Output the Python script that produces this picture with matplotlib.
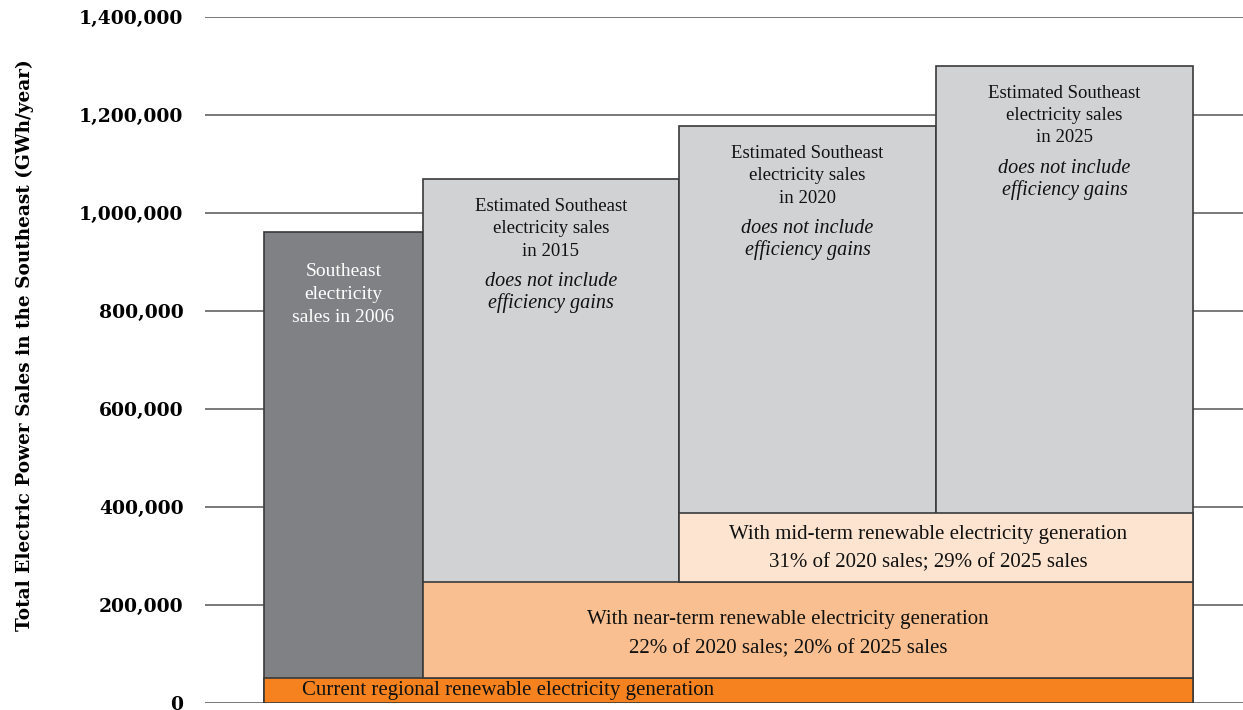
import matplotlib
matplotlib.use("Agg")
import matplotlib.pyplot as plt

# values (GWh/year)
years = ['2006', '2015', '2020', '2025']
sales = [961000, 1069000, 1177000, 1300000]
current_renew = 51000      # current regional renewable generation
near_term_top = 247000     # with near-term renewables
mid_term_top = 388000      # with mid-term renewables
yticks = [0, 200000, 400000, 600000, 800000, 1000000, 1200000, 1400000]

# layout (column edges in axes pixel units)
edges = [59, 218, 474, 731, 988]

plt.rcParams['font.family'] = ['Liberation Serif', 'DejaVu Serif']

fig = plt.figure(figsize=(12.43, 7.10), dpi=100)
ax = fig.add_axes([205/1243, 7/710, 1038/1243, 686/710])
ax.set_xlim(0, 1038)
ax.set_ylim(0, 1400000)

for y in yticks:
    ax.axhline(y, color='#6d6e71', lw=1.3, zorder=0)

dark = '#808184'
light = '#d1d2d4'
ec = '#3a3a3a'
for i in range(4):
    ax.bar(edges[i], sales[i], width=edges[i+1]-edges[i], align='edge',
           color=dark if i == 0 else light, edgecolor=ec, lw=1.2, zorder=2)

ax.bar(edges[0], current_renew, width=edges[4]-edges[0], align='edge',
       color='#f5821f', edgecolor=ec, lw=1.2, zorder=3)
ax.bar(edges[1], near_term_top-current_renew, bottom=current_renew,
       width=edges[4]-edges[1], align='edge',
       color='#f9bf91', edgecolor=ec, lw=1.2, zorder=3)
ax.bar(edges[2], mid_term_top-near_term_top, bottom=near_term_top,
       width=edges[4]-edges[2], align='edge',
       color='#fde4d0', edgecolor=ec, lw=1.2, zorder=3)

px = 1400000/686  # value per pixel
# 2006 label
cx = (edges[0]+edges[1])/2
ax.text(cx, sales[0]-31*px, 'Southeast\nelectricity\nsales in 2006', ha='center', va='top',
        color='white', fontsize=14, linespacing=1.45, zorder=5)
for i in range(1, 4):
    cx = (edges[i]+edges[i+1])/2
    ax.text(cx, sales[i]-19*px, 'Estimated Southeast\nelectricity sales\nin ' + years[i],
            ha='center', va='top', fontsize=13.5, linespacing=1.4, color='#111', zorder=5)
    ax.text(cx, sales[i]-93*px, 'does not include\nefficiency gains',
            ha='center', va='top', fontsize=14.5, style='italic', linespacing=1.15,
            color='#111', zorder=5)

ax.text(723, (near_term_top+mid_term_top)/2 - 1*px, 'With mid-term renewable electricity generation\n31% of 2020 sales; 29% of 2025 sales',
        ha='center', va='center', fontsize=15, linespacing=1.7, color='#111', zorder=5)
ax.text(583, (current_renew+near_term_top)/2 - 4*px, 'With near-term renewable electricity generation\n22% of 2020 sales; 20% of 2025 sales',
        ha='center', va='center', fontsize=15, linespacing=1.7, color='#111', zorder=5)
ax.text(97, current_renew/2, 'Current regional renewable electricity generation',
        ha='left', va='center', fontsize=15, color='#111', zorder=5)

ax.set_xticks([])
ax.set_yticks(yticks)
ax.set_yticklabels(['{:,}'.format(v) for v in yticks], fontsize=13.5,
                   fontweight='bold', family='DejaVu Serif')
ax.tick_params(axis='y', length=0, pad=15.5)
for s in ax.spines.values():
    s.set_visible(False)

fig.text(25/1243, 1-345/710, 'Total Electric Power Sales in the Southeast (GWh/year)',
         rotation=90, ha='center', va='center', fontsize=13.3, fontweight='bold',
         family='DejaVu Serif')

fig.savefig('out.png', dpi=100)
